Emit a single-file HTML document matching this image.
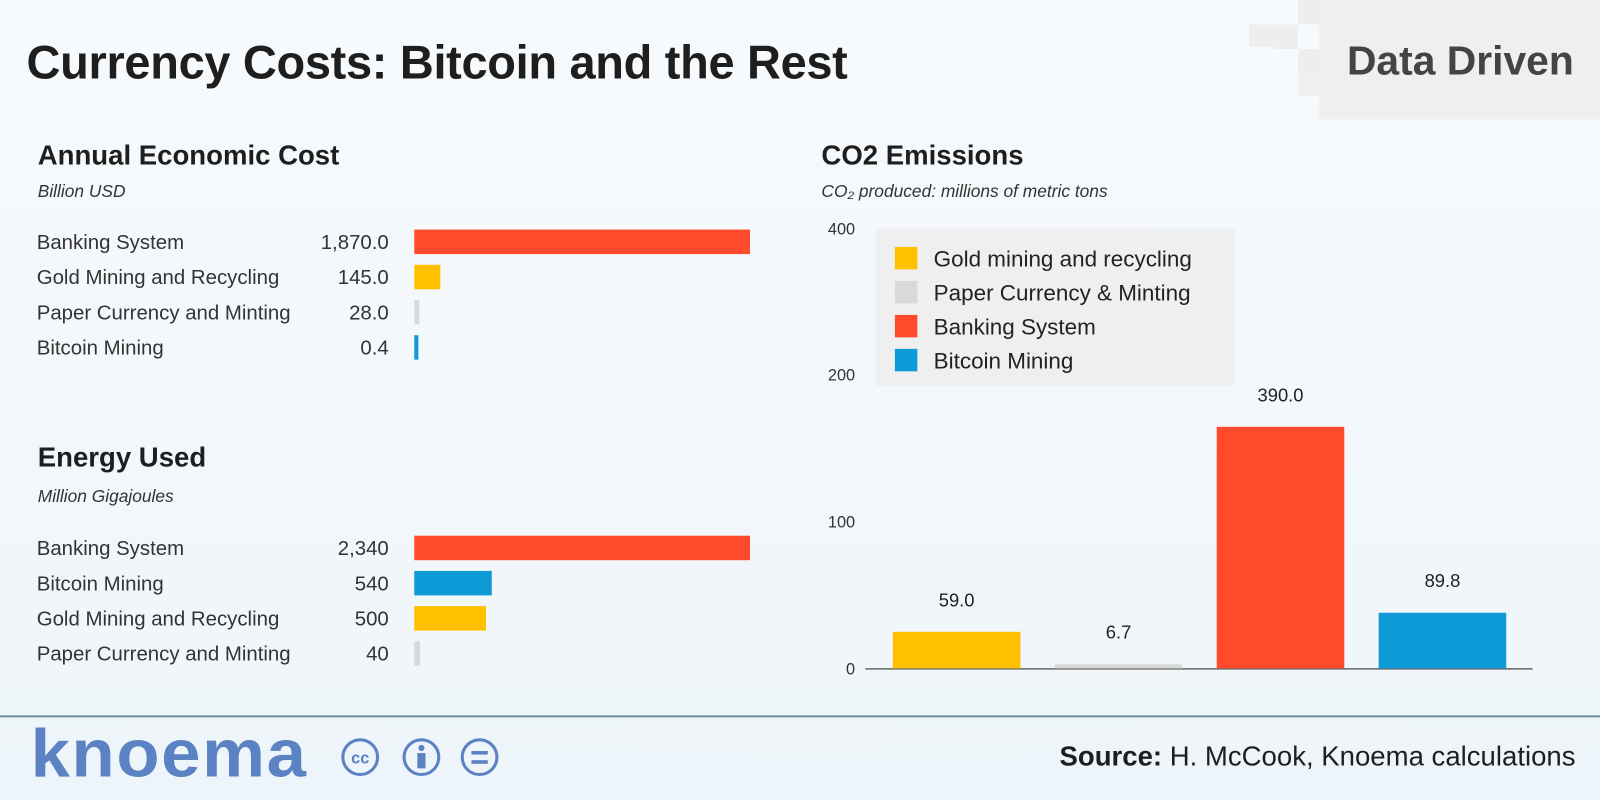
<!DOCTYPE html>
<html><head><meta charset="utf-8">
<style>
html,body{margin:0;padding:0;width:1600px;height:800px;overflow:hidden;background:#f2f7fb;}
#stage{position:absolute;left:0;top:0;width:1568px;height:784px;transform:scale(1.020408);transform-origin:0 0;font-family:"Liberation Sans",sans-serif;background:linear-gradient(180deg,#f7fafc 0%,#eef5fa 100%);}
.abs{position:absolute;}
.h1{left:26px;top:34px;font-size:46px;font-weight:bold;color:#1e1e1e;letter-spacing:-0.3px;}
.h2{font-size:27px;font-weight:bold;color:#1e1e1e;}
.sub{font-size:17px;font-style:italic;color:#333;}
</style></head><body>
<div id="stage">
<div class="abs" style="left:1293px;top:0;width:275px;height:117px;background:#efefef;"></div>
<div class="abs" style="left:1248px;top:24px;width:24px;height:24px;background:#eeeeee"></div>
<div class="abs" style="left:1272px;top:0;width:22px;height:24px;background:#eeeeee"></div>
<div class="abs" style="left:1272px;top:48px;width:22px;height:24px;background:#eeeeee"></div>
<div class="abs" style="left:1224px;top:24px;width:24px;height:22px;background:#eeeeee"></div>
<div class="abs" style="left:1272px;top:72px;width:22px;height:22px;background:#f0f0f0"></div>
<div class="abs" style="left:1320px;top:38px;font-size:40px;font-weight:bold;color:#444;">Data Driven</div>
<div class="abs h1">Currency Costs: Bitcoin and the Rest</div>

<div class="abs h2" style="left:37px;top:137px;">Annual Economic Cost</div>
<div class="abs sub" style="left:37px;top:178px;">Billion USD</div>
<div class="abs h2" style="left:37px;top:433px;">Energy Used</div>
<div class="abs sub" style="left:37px;top:477px;">Million Gigajoules</div>
<div class="abs h2" style="left:805px;top:137px;">CO2 Emissions</div>
<div class="abs sub" style="left:805px;top:178px;">CO₂ produced: millions of metric tons</div>

<svg class="abs" style="left:0;top:0" width="1568" height="784" id="chart"></svg>

<div class="abs" style="left:0;top:701px;width:1568px;height:2px;background:#6f8fa3;"></div>
<div class="abs" style="left:30px;top:700px;font-size:66px;font-weight:bold;color:#5b82c2;letter-spacing:1.5px;transform:scaleX(1.05);transform-origin:0 0;">knoema</div>
<svg class="abs" style="left:333px;top:720px" width="160" height="44">
<g fill="none" stroke="#5b82c2" stroke-width="3"><circle cx="20" cy="22" r="17"/><circle cx="80" cy="22" r="17"/><circle cx="137" cy="22" r="17"/></g>
<text x="20" y="28" text-anchor="middle" font-size="16" font-weight="bold" fill="#5b82c2" font-family="Liberation Sans">cc</text>
<circle cx="80" cy="13" r="3" fill="#5b82c2"/><rect x="76" y="18" width="8" height="15" fill="#5b82c2"/>
<rect x="129" y="16" width="16" height="3.5" fill="#5b82c2"/><rect x="129" y="25" width="16" height="3.5" fill="#5b82c2"/>
</svg>
<div class="abs" style="right:24px;top:726px;font-size:27px;color:#1e1e1e;"><b>Source:</b> H. McCook, Knoema calculations</div>
</div>
<script>
const NS="http://www.w3.org/2000/svg";
const econCats=["Banking System","Gold Mining and Recycling","Paper Currency and Minting","Bitcoin Mining"];
const econVals=[1870,145,28,0.4];
const econLabels=["1,870.0","145.0","28.0","0.4"];
const econColors=["#ff4b2b","#ffc000","#d9d9d9","#0d9ad6"];
const energyCats=["Banking System","Bitcoin Mining","Gold Mining and Recycling","Paper Currency and Minting"];
const energyVals=[2340,540,500,40];
const energyLabels=["2,340","540","500","40"];
const energyColors=["#ff4b2b","#0d9ad6","#ffc000","#d9d9d9"];
const co2Cats=["Gold mining and recycling","Paper Currency & Minting","Banking System","Bitcoin Mining"];
const co2Vals=[59.0,6.7,390.0,89.8];
const co2Colors=["#ffc000","#d9d9d9","#ff4b2b","#0d9ad6"];
const co2Ticks=[0,100,200,400];
const svg=document.getElementById('chart');
function mk(tag,attrs){const e=document.createElementNS(NS,tag);for(const k in attrs)e.setAttribute(k,attrs[k]);svg.appendChild(e);return e;}
function txt(x,y,s,attrs){const e=mk('text',Object.assign({x:x,y:y,'font-family':'Liberation Sans, sans-serif'},attrs));e.textContent=s;return e;}
function hbars(cats,vals,labels,colors,y0,name){
  const max=Math.max(...vals);const x=v=>Math.max(329*v/max,4);
  cats.forEach((c,i)=>{const yc=y0+i*34.5;
    const t=txt(36,yc+7,c,{'font-size':20,fill:'#333'});
    
    
    const v=txt(381,yc+7,labels[i],{'font-size':20,fill:'#333','text-anchor':'end'});
    
    
    const r=mk('rect',{x:406,y:yc-12,width:x(vals[i]),height:24,fill:colors[i]});
    
    
  });
}
hbars(econCats,econVals,econLabels,econColors,237,'economic-cost');
hbars(energyCats,energyVals,energyLabels,energyColors,537,'energy');
const base=655;
const tickY=v=>v<=200?base-1.44*v:367-0.715*(v-200);
const barH=v=>0.607*v;
co2Ticks.forEach(t=>{const e=txt(838,tickY(t)+6,String(t),{'font-size':16,fill:'#333','text-anchor':'end'});
  
  });
const ax=mk('line',{x1:848,y1:base+0.5,x2:1502,y2:base+0.5,stroke:'#666','stroke-width':1.5});


co2Vals.forEach((v,i)=>{const x=875+i*158.7;const h=Math.max(barH(v),4);
  const r=mk('rect',{x:x,y:base-h,width:125,height:h,fill:co2Colors[i]});
  
  
  const l=txt(x+62.5,base-h-25,v.toFixed(1),{'font-size':18,fill:'#222','text-anchor':'middle'});
  
  
});
const lg=mk('rect',{x:858,y:224,width:352,height:154,fill:'#efefef'});


co2Cats.forEach((c,i)=>{const y=253+i*33.3;
  const s=mk('rect',{x:877,y:y-11,width:22,height:22,fill:co2Colors[i]});
  
  
  const t=txt(915,y+8,c,{'font-size':22,fill:'#222'});
  
  
});
</script>
</body></html>
